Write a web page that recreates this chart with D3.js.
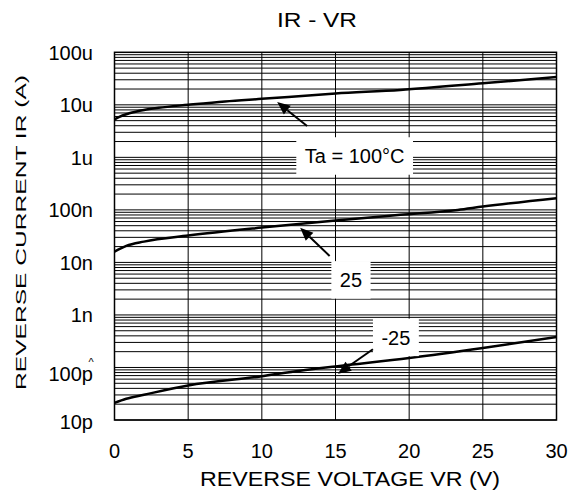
<!DOCTYPE html>
<html>
<head>
<meta charset="utf-8" />
<title>IR - VR</title>
<script src="https://d3js.org/d3.v7.min.js"></script>
<style>
  body { margin: 0; background: #fff; }
  text { font-family: "Liberation Sans", Arial, sans-serif; fill: #000; }
  .grid line { stroke: #000; stroke-width: 1; }
  .curve { fill: none; stroke: #000; stroke-width: 2.5; }
</style>
</head>
<body>
<script>
// - - - - - DATA - - - - - //
// reverse voltage (V) / reverse current (A)
var vr100 = [0, 0.5, 1, 2, 3, 5, 7.5, 10, 15, 19.4, 25, 30];
var ir100 = [5.3e-6, 6.2e-6, 6.9e-6, 8.0e-6, 8.8e-6, 10.0e-6, 11.6e-6, 13.0e-6, 16.4e-6, 19.2e-6, 25.7e-6, 33.9e-6];

var vr25 = [0, 0.8, 2, 5, 10, 15, 19.4, 23.3, 25, 30];
var ir25 = [16.1e-9, 20.7e-9, 24.9e-9, 32.4e-9, 46e-9, 62.6e-9, 80.4e-9, 100e-9, 115.6e-9, 167e-9];

var vrM25 = [0, 0.8, 2, 5, 9.9, 12.6, 15, 20, 25, 30];
var irM25 = [21.2e-12, 25.4e-12, 30.2e-12, 45.5e-12, 67.5e-12, 86.7e-12, 104.7e-12, 151e-12, 234e-12, 380e-12];

var xTicks = [0, 5, 10, 15, 20, 25, 30];
var yTicks = [1e-11, 1e-10, 1e-9, 1e-8, 1e-7, 1e-6, 1e-5, 1e-4];
var yTickLabels = ["10p", "100p", "1n", "10n", "100n", "1u", "10u", "100u"];

// label text, label centre [V, A], arrow tail [V, A], arrow tip [V, A]
var labelText = ["Ta = 100°C", "25", "-25"];
var labelPos = [[16.3, 1.05e-6], [16.05, 4.6e-9], [19.1, 3.7e-10]];
var arrowFrom = [[13.07, 3.96e-6], [14.6, 13.3e-9], [17.54, 222e-12]];
var arrowTo = [[11.04, 11.3e-6], [12.6, 45.5e-9], [15.17, 76e-12]];

// - - - - - LAYOUT - - - - - //
var width = 580, height = 498;
var plotL = 114.5, plotR = 556.5, plotT = 52.3, plotB = 420;

var svg = d3.select("body").append("svg")
    .attr("width", width)
    .attr("height", height);

var x = d3.scaleLinear().domain([0, 30]).range([plotL, plotR]);
var y = d3.scaleLog().domain([1e-11, 1e-4]).range([plotB, plotT]);

// minor log lines 1..9 per decade
var hLines = [];
for (var e = -11; e < -4; e++) {
  for (var k = 1; k <= 9; k++) hLines.push(k * Math.pow(10, e));
}

var grid = svg.append("g").attr("class", "grid");
grid.selectAll(".h").data(hLines).enter().append("line")
    .attr("x1", plotL).attr("x2", plotR)
    .attr("y1", function(d) { return y(d); })
    .attr("y2", function(d) { return y(d); });
grid.selectAll(".v").data(xTicks.slice(1, -1)).enter().append("line")
    .attr("y1", plotT).attr("y2", plotB)
    .attr("x1", function(d) { return x(d); })
    .attr("x2", function(d) { return x(d); });

// curves
var line = d3.line()
    .x(function(d) { return x(d[0]); })
    .y(function(d) { return y(d[1]); })
    .curve(d3.curveMonotoneX);

[[vr100, ir100], [vr25, ir25], [vrM25, irM25]].forEach(function(s) {
  svg.append("path")
      .attr("class", "curve")
      .attr("d", line(d3.zip(s[0], s[1])));
});

// frame
svg.append("rect")
    .attr("x", plotL).attr("y", plotT)
    .attr("width", plotR - plotL).attr("height", plotB - plotT)
    .attr("fill", "none").attr("stroke", "#000").attr("stroke-width", 1.5);

// axes text (the 100p label sits a little low in the original)
svg.append("g").selectAll("text").data(yTicks).enter().append("text")
    .attr("x", 93)
    .attr("y", function(d) { return y(d) + (d === 1e-10 ? 6 : d === 1e-11 ? 2 : 0); })
    .attr("dy", "0.36em")
    .attr("text-anchor", "end")
    .style("font-size", "20px")
    .text(function(d, i) { return yTickLabels[i]; });

svg.append("g").selectAll("text").data(xTicks).enter().append("text")
    .attr("x", function(d) { return x(d); })
    .attr("y", 457.5)
    .attr("text-anchor", "middle")
    .style("font-size", "20px")
    .text(function(d) { return d; });

// stray mark above 100p
svg.append("text").attr("x", 91).attr("y", 366).attr("text-anchor", "middle")
    .style("font-size", "11px").text("^");

svg.append("text")
    .attr("x", 317).attr("y", 27.3)
    .attr("text-anchor", "middle")
    .attr("textLength", 80).attr("lengthAdjust", "spacingAndGlyphs")
    .style("font-size", "19.5px")
    .text("IR - VR");

svg.append("text")
    .attr("x", 350).attr("y", 486)
    .attr("text-anchor", "middle")
    .attr("textLength", 300).attr("lengthAdjust", "spacingAndGlyphs")
    .style("font-size", "21px")
    .text("REVERSE VOLTAGE  VR  (V)");

svg.append("text")
    .attr("transform", "translate(26,232.5) rotate(-90)")
    .attr("text-anchor", "middle")
    .attr("textLength", 315).attr("lengthAdjust", "spacingAndGlyphs")
    .style("font-size", "15.5px")
    .text("REVERSE CURRENT  IR (A)");

// labels in white boxes
var lab = svg.append("g").selectAll("g").data(labelText).enter().append("g");
lab.each(function(d, i) {
  var g = d3.select(this);
  var cx = x(labelPos[i][0]), cy = y(labelPos[i][1]);
  var t = g.append("text")
      .attr("x", cx).attr("y", cy + 7.2)
      .attr("text-anchor", "middle")
      .style("font-size", "20px")
      .text(d);
  var bb = t.node().getBBox();
  g.insert("rect", "text")
      .attr("x", bb.x - 8.5).attr("width", bb.width + 17)
      .attr("y", cy - 19).attr("height", 37.5)
      .attr("fill", "#fff");
});

// arrows
arrowFrom.forEach(function(p, i) {
  var x1 = x(p[0]), y1 = y(p[1]);
  var x2 = x(arrowTo[i][0]), y2 = y(arrowTo[i][1]);
  var a = Math.atan2(y2 - y1, x2 - x1);
  var hl = 13, hw = 5.5;
  var bx = x2 - hl * Math.cos(a), by = y2 - hl * Math.sin(a);
  svg.append("line")
      .attr("x1", x1).attr("y1", y1).attr("x2", bx).attr("y2", by)
      .attr("stroke", "#000").attr("stroke-width", 2);
  svg.append("path")
      .attr("d", "M" + x2 + "," + y2 +
        "L" + (bx + hw * Math.sin(a)) + "," + (by - hw * Math.cos(a)) +
        "L" + (bx - hw * Math.sin(a)) + "," + (by + hw * Math.cos(a)) + "Z")
      .attr("fill", "#000");
});
</script>
</body>
</html>
